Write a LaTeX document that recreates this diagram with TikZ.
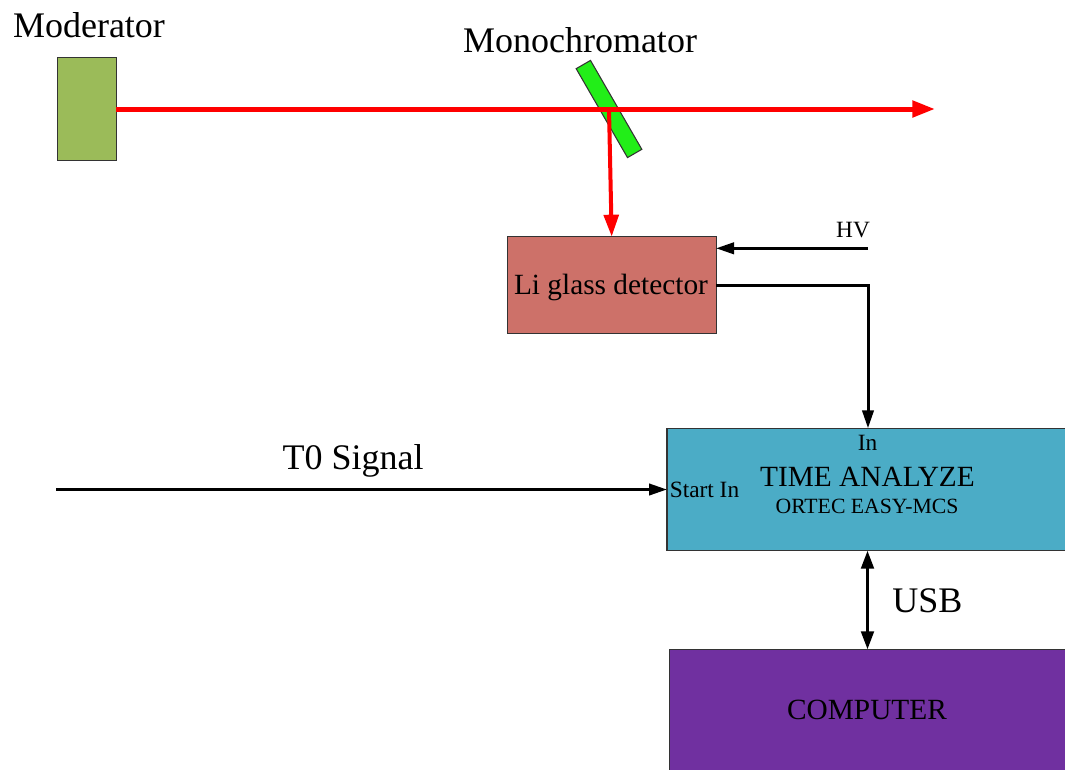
\documentclass[tikz,border=0pt]{standalone}
\usepackage{fontspec}
\setmainfont{Liberation Serif}
\usetikzlibrary{arrows.meta}

\definecolor{modgreen}{HTML}{9BBB59}
\definecolor{monogreen}{HTML}{22EE18}
\definecolor{detred}{HTML}{CD7169}
\definecolor{tacyan}{HTML}{4BACC6}
\definecolor{pcpurple}{HTML}{7030A0}

\tikzset{
  part/.style={draw=black!80, line width=0.8pt, inner sep=0pt, outer sep=0pt},
  beam/.style={red, line width=3.75pt, -{Triangle[length=17pt,width=12pt]}},
  beamdown/.style={red, line width=3pt, -{Triangle[length=16.5pt,width=11pt]}},
  wire/.style={black, line width=2.25pt, -{Triangle[length=13.5pt,width=8.5pt]}},
  wireboth/.style={black, line width=2.25pt, {Triangle[length=13.5pt,width=9.5pt]}-{Triangle[length=13.5pt,width=9.5pt]}},
  big/.style={font=\fontsize{27}{32}\selectfont, inner sep=0pt, anchor=base},
  mid/.style={font=\fontsize{22}{26}\selectfont, inner sep=0pt, anchor=base},
  small/.style={font=\fontsize{17.5}{21}\selectfont, inner sep=0pt, anchor=base},
  tiny/.style={font=\fontsize{16.3}{19}\selectfont, inner sep=0pt, anchor=base},
}

\begin{document}
\begin{tikzpicture}[x=0.75pt, y=-0.75pt]
\useasboundingbox (0,0) rectangle (1065,769);

% source and crystal
\node[part, fill=modgreen, minimum width=44pt, minimum height=77.5pt] (moderator) at (87,109) {};
\node[big] (modlabel) at (89,37) {Moderator};

\node[part, fill=monogreen, minimum width=12.4pt, minimum height=77pt, rotate=30] (mono) at (609,109) {};
\node[big] (monolabel) at (580,52) {Monochromator};

% detector and electronics
\node[part, fill=detred, minimum width=156.5pt, minimum height=72.5pt] (detector) at (611.7,285) {};
\node[mid] (detlabel) at (611,294) {Li glass detector};

\node[part, fill=tacyan, minimum width=306pt, minimum height=91.8pt] (time) at (871,489.5) {};
\node[small] (inlabel) at (867.5,450.5) {In};
\node[mid] (talabel) at (867.5,486) {TIME ANALYZE};
\node[tiny] (ortec) at (867,513) {ORTEC EASY-MCS};
\node[small] (startin) at (704.5,497) {Start In};

\node[part, fill=pcpurple, minimum width=304.3pt, minimum height=105.5pt] (computer) at (872.15,719.65) {};
\node[mid] (pclabel) at (867,719) {COMPUTER};

% neutron beam
\coordinate (beamend) at (935,109);
\draw[beam] (moderator.east) -- (moderator.east -| beamend);
\draw[beamdown] (mono.center) -- (detector.north);

% high voltage input
\coordinate (hv) at (868,248.3);
\node[small] (hvlabel) at (853,237) {HV};
\draw[wire] (hv) -- (hv -| detector.east);

% detector signal to analyzer
\coordinate (turn) at (868,285);
\draw[wire] (detector.east) -- (turn) -- (turn |- time.north);

% start signal
\coordinate (t0) at (56,489.5);
\draw[wire] (t0) -- (time.west);
\node[big] (t0label) at (353,469) {T0 Signal};

% USB link
\coordinate (usb) at (867.5,600);
\draw[wireboth] (usb |- time.south) -- (usb |- computer.north);
\node[big] (usblabel) at (927.5,612.5) {USB};
\end{tikzpicture}
\end{document}
